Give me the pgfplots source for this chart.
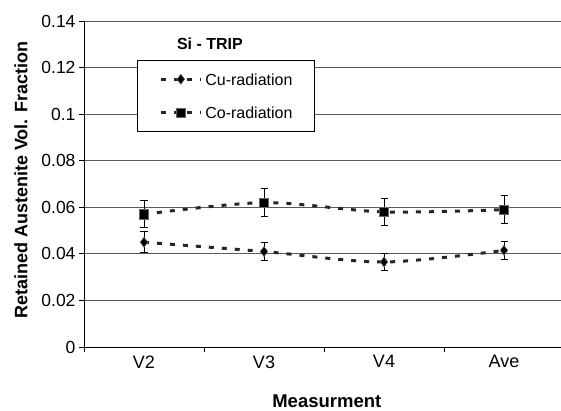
\documentclass[border=0pt]{standalone}
\usepackage{fontspec}
\setmainfont{Liberation Sans}
\usepackage{pgfplots}
\pgfplotsset{compat=1.18}
\begin{document}
\begin{tikzpicture}
\begin{axis}[
  at={(0,0)}, anchor=south west,
  scale only axis, width=477pt, height=326pt,
  xmin=-0.5, xmax=3.475, ymin=0, ymax=0.14,
  axis x line*=bottom, axis y line*=left,
  axis line style={-, black, line width=0.9pt},
  ytick={0,0.02,0.04,0.06,0.08,0.1,0.12,0.14},
  ymajorgrids, grid style={black!65, line width=0.8pt},
  xtick={0,1,2,3}, xticklabels={V2,V3,V4,Ave},
  major x tick style={draw=none},
  minor xtick={-0.5,0.5,1.5,2.5},
  tick align=outside, major tick length=5pt, minor tick length=5pt,
  tick style={black, line width=0.9pt},
  /pgf/number format/assume math mode=true,
  /pgf/number format/fixed, /pgf/number format/precision=2,
  yticklabel style={font=\fontsize{17.5}{20}\selectfont},
  xticklabel style={font=\fontsize{18}{21}\selectfont},
  xlabel={Measurment}, ylabel={Retained Austenite Vol. Fraction},
  xlabel style={font=\bfseries\fontsize{18.5}{22}\selectfont, at={(axis description cs:0.509,-0.165)}, anchor=center},
  ylabel style={font=\bfseries\fontsize{18}{22}\selectfont, at={(axis description cs:-0.132,0.512)}, anchor=center},
  legend style={at={(axis description cs:0.111,0.880)}, anchor=north west,
    draw=black, fill=white, line width=0.8pt,
    inner xsep=22pt, inner ysep=13pt, row sep=22pt, column sep=3pt,
    nodes={inner sep=0pt, text height=11.5pt, text depth=0pt, font=\fontsize{16}{19}\selectfont},
    cells={anchor=west}},
  legend image code/.code={
    \draw[#1, mark=none] (0pt,0pt) -- (40pt,0pt);
    \draw[#1] plot coordinates {(20pt,0pt)};
  },
]
\addplot[smooth, color=black!85, line width=3pt, dash pattern=on 5pt off 8pt,
  mark=diamond*, mark size=5pt, mark options={solid, fill=black, draw=black!60, line width=0.6pt},
  error bars/.cd, y dir=both, y explicit,
  error bar style={solid, black, line width=1pt},
  error mark options={rotate=90, mark size=3.5pt, black, solid, line width=1pt}]
  table[x=x, y=y, y error=e] {
x y e
0 0.045 0.0045
1 0.041 0.0040
2 0.0365 0.0036
3 0.0415 0.0040
};
\addlegendentry{Cu-radiation}
\addplot[smooth, color=black!85, line width=3pt, dash pattern=on 5pt off 8pt,
  mark=square*, mark size=4.7pt, mark options={solid, fill=black, draw=black!60, line width=0.6pt},
  error bars/.cd, y dir=both, y explicit,
  error bar style={solid, black, line width=1pt},
  error mark options={rotate=90, mark size=3.5pt, black, solid, line width=1pt}]
  table[x=x, y=y, y error=e] {
x y e
0 0.057 0.0057
1 0.062 0.0060
2 0.058 0.0057
3 0.059 0.0060
};
\addlegendentry{Co-radiation}
\node[font=\bfseries\fontsize{16}{19}\selectfont] at (axis description cs:0.264,0.929) {Si - TRIP};
\end{axis}
\pgfresetboundingbox
\path (-84pt,-64pt) rectangle (477pt,347pt);
\end{tikzpicture}
\end{document}
